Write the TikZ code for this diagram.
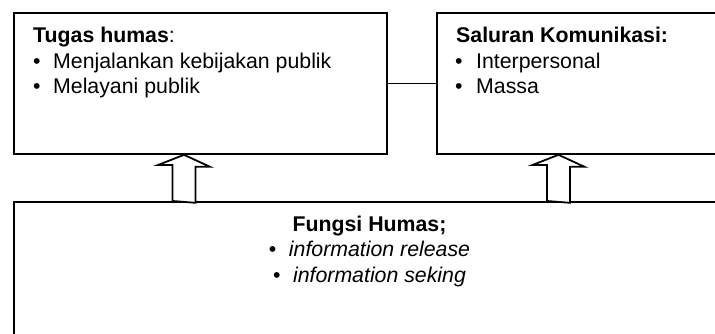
\documentclass[tikz,border=0pt]{standalone}
\usepackage{fontspec}
\setmainfont{Liberation Sans}
\begin{document}
\begin{tikzpicture}[x=1pt,y=-1pt,
  box/.style={draw=black,line width=1.8pt,fill=white,inner sep=0pt,anchor=north west},
  txt/.style={inner sep=0pt,font=\fontsize{21.3}{25.5}\selectfont},
  blockarrow/.style={draw=black,line width=1.8pt,fill=white,line join=miter},
  link/.style={draw=black,line width=1.8pt}]
\useasboundingbox (0,0) rectangle (715,333);
\clip (0,0) rectangle (715,333);
\fill[white] (0,0) rectangle (715,333);
% boxes
\node[box,minimum width=373pt,minimum height=141pt] (tugas) at (13,12) {};
\node[box,minimum width=300pt,minimum height=141pt] (saluran) at (436,12) {};
\node[box,minimum width=715pt,minimum height=160pt] (fungsi) at (13,201) {};
% connector between the two top boxes
\draw[link] (tugas.east) -- (saluran.west);
% block arrows
\coordinate (a1) at (184,201);
\coordinate (a2) at (558.5,201);
\foreach \a/\b in {a1/tugas,a2/saluran}{
  \draw[blockarrow] (\a) ++(-11.5,0) -- ++(0,-36) -- ++(-14.5,0)
    -- (\b.south -| \a) -- ++(26,12) -- ++(-14.5,0) -- ++(0,36) -- cycle;
}
% texts in left box
\node[txt,anchor=base west] (t1) at (33,42.5) {\textbf{Tugas humas}:};
\node[txt,anchor=base west] (t2) at (33,68) {\makebox[20pt][l]{•}Menjalankan kebijakan publik};
\node[txt,anchor=base west] (t3) at (33,93.5) {\makebox[20pt][l]{•}Melayani publik};
% texts in right box
\node[txt,anchor=base west] (s1) at (456,42.5) {\textbf{Saluran Komunikasi:}};
\node[txt,anchor=base west] (s2) at (455,68) {\makebox[21pt][l]{•}Interpersonal};
\node[txt,anchor=base west] (s3) at (455,93.5) {\makebox[21pt][l]{•}Massa};
% texts in bottom box
\node[txt,anchor=base] (f1) at (369.5,231) {\textbf{Fungsi Humas;}};
\node[txt,anchor=base] (f2) at (369.5,256.5) {\makebox[20pt][l]{•}\textit{information release}};
\node[txt,anchor=base] (f3) at (369.5,282) {\makebox[20pt][l]{•}\textit{information seking}};
\end{tikzpicture}
\end{document}
